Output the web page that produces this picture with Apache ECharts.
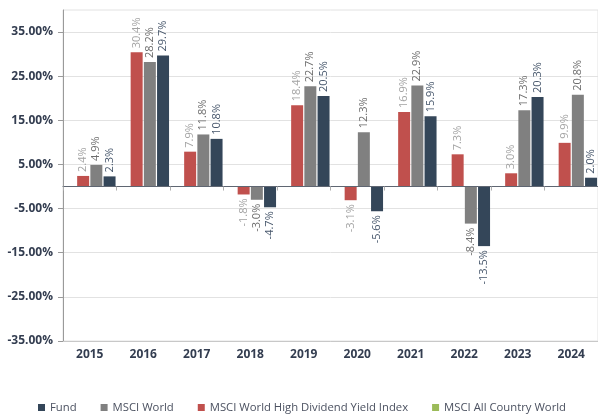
<!DOCTYPE html>
<html><head><meta charset="utf-8">
<script src="https://cdn.jsdelivr.net/npm/echarts@6/dist/echarts.min.js"></script>
<style>html,body{margin:0;padding:0;background:#fff}#c{width:598px;height:414px}</style>
</head><body><div id="c"></div>
<script>
const years = ['2015','2016','2017','2018','2019','2020','2021','2022','2023','2024'];
const fund = [2.3, 29.7, 10.8, -4.7, 20.5, -5.6, 15.9, -13.5, 20.3, 2.0];
const msciWorld = [4.9, 28.2, 11.8, -3.0, 22.7, 12.3, 22.9, -8.4, 17.3, 20.8];
const msciHDY = [2.4, 30.4, 7.9, -1.8, 18.4, -3.1, 16.9, 7.3, 3.0, 9.9];
const msciACWI = [null, null, null, null, null, null, null, null, null, null];
const yTickValues = [-35, -25, -15, -5, 5, 15, 25, 35];
const legendOrder = ['Fund', 'MSCI World', 'MSCI World High Dividend Yield Index', 'MSCI All Country World'];

const FONT = 'Open Sans';
function items(arr) {
  return arr.map(v => v == null ? null : ({
    value: v,
    label: { position: v < 0 ? 'bottom' : 'top', align: v < 0 ? 'right' : 'left' }
  }));
}
function barSeries(name, arr, color, labelColor) {
  return {
    name, type: 'bar', xAxisIndex: 0, yAxisIndex: 0,
    data: items(arr),
    barWidth: 12, barGap: '10%',
    itemStyle: { color },
    label: {
      show: true, rotate: 90, verticalAlign: 'middle', distance: 4,
      fontFamily: FONT, fontSize: 11, color: labelColor,
      formatter: p => p.value.toFixed(1) + '%'
    },
    emphasis: { disabled: true }
  };
}

const chart = echarts.init(document.getElementById('c'), null, { renderer: 'canvas' });
chart.setOption({
  animation: false,
  backgroundColor: '#fff',
  grid: { left: 63, top: 10, width: 540, height: 331, show: true, borderColor: '#e2e2e2', borderWidth: 1, backgroundColor: 'transparent', containLabel: false },
  legend: {
    data: legendOrder, left: 33, top: 397, icon: 'rect', itemWidth: 7, itemHeight: 7, itemGap: 24,
    textStyle: { fontFamily: FONT, fontSize: 11.3, color: '#4b5160' }
  },
  xAxis: [
    {
      type: 'category', data: years, position: 'bottom',
      axisLine: { onZero: false, lineStyle: { color: '#c8c8c8' } },
      axisTick: { show: false },
      axisLabel: { margin: 8, fontFamily: FONT, fontWeight: 'bold', fontSize: 12, color: '#333d50' },
      splitLine: { show: false }
    },
    {
      type: 'category', data: years, position: 'bottom', z: 5,
      axisLine: { onZero: true, lineStyle: { color: '#5f6672' } },
      axisTick: { show: true, length: 4, lineStyle: { color: '#b0b0b0' } },
      axisLabel: { show: false },
      splitLine: { show: false }
    }
  ],
  yAxis: {
    type: 'value', min: -35, max: 40,
    axisLine: { show: true, lineStyle: { color: '#9a9a9a' } },
    axisTick: { show: true, length: 5, customValues: yTickValues, lineStyle: { color: '#9a9a9a' } },
    axisLabel: {
      customValues: yTickValues, margin: 10, fontFamily: FONT, fontWeight: 'bold', fontSize: 12, color: '#333d50',
      formatter: v => v.toFixed(2) + '%'
    },
    splitLine: { show: true, lineStyle: { color: '#e2e2e2' } }
  },
  series: [
    barSeries('MSCI All Country World', msciACWI, '#9bbb59', '#666'),
    barSeries('MSCI World High Dividend Yield Index', msciHDY, '#c0504d', '#a3a3a3'),
    barSeries('MSCI World', msciWorld, '#808080', '#6c6c6c'),
    barSeries('Fund', fund, '#344659', '#46566b')
  ]
});
</script></body></html>
